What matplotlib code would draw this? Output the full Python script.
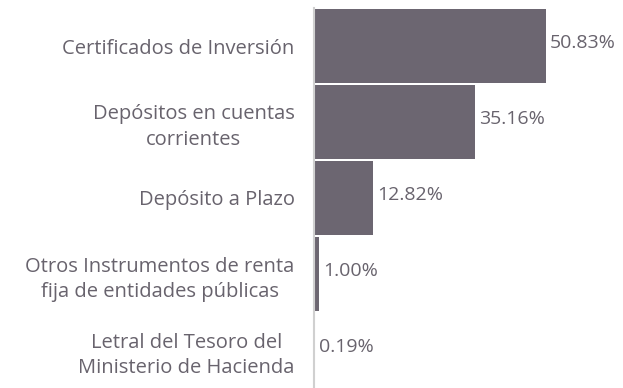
import matplotlib.pyplot as plt

categorias = [
    'Certificados de Inversión',
    'Depósitos en cuentas\ncorrientes',
    'Depósito a Plazo',
    'Otros Instrumentos de renta\nfija de entidades públicas',
    'Letral del Tesoro del\nMinisterio de Hacienda',
]
porcentajes = [50.83, 35.16, 12.82, 1.00, 0.19]
etiquetas = ['50.83%', '35.16%', '12.82%', '1.00%', '0.19%']

color_barra = '#6c6671'
color_texto = '#68636d'

plt.rcParams['font.family'] = ['Open Sans', 'DejaVu Sans']

fig = plt.figure(figsize=(6.23, 3.88), dpi=100)
ax = fig.add_axes([314 / 623, 0, 309 / 623, 380 / 388])

pos = list(range(len(categorias)))
ax.barh(pos, porcentajes, height=0.97, color=color_barra)

# porcentaje a la derecha de cada barra
for p, v, t in zip(pos, porcentajes, etiquetas):
    ax.annotate(t, (v, p), xytext=(3, 2), textcoords='offset points',
                ha='left', va='center', fontsize=14, color=color_texto)

ax.set_xlim(0, 309 / 4.565)
ax.set_ylim(4.5, -0.5)
ax.set_yticks(pos)
ax.set_yticklabels(categorias, fontsize=14.5, color=color_texto,
                   multialignment='center', linespacing=1.35)
ax.tick_params(axis='y', length=0, pad=14)
ax.set_xticks([])

for lado in ['top', 'right', 'bottom']:
    ax.spines[lado].set_visible(False)
ax.spines['left'].set_color('#d0d0d0')
ax.spines['left'].set_linewidth(1.5)

fig.savefig('out.png', dpi=100)
